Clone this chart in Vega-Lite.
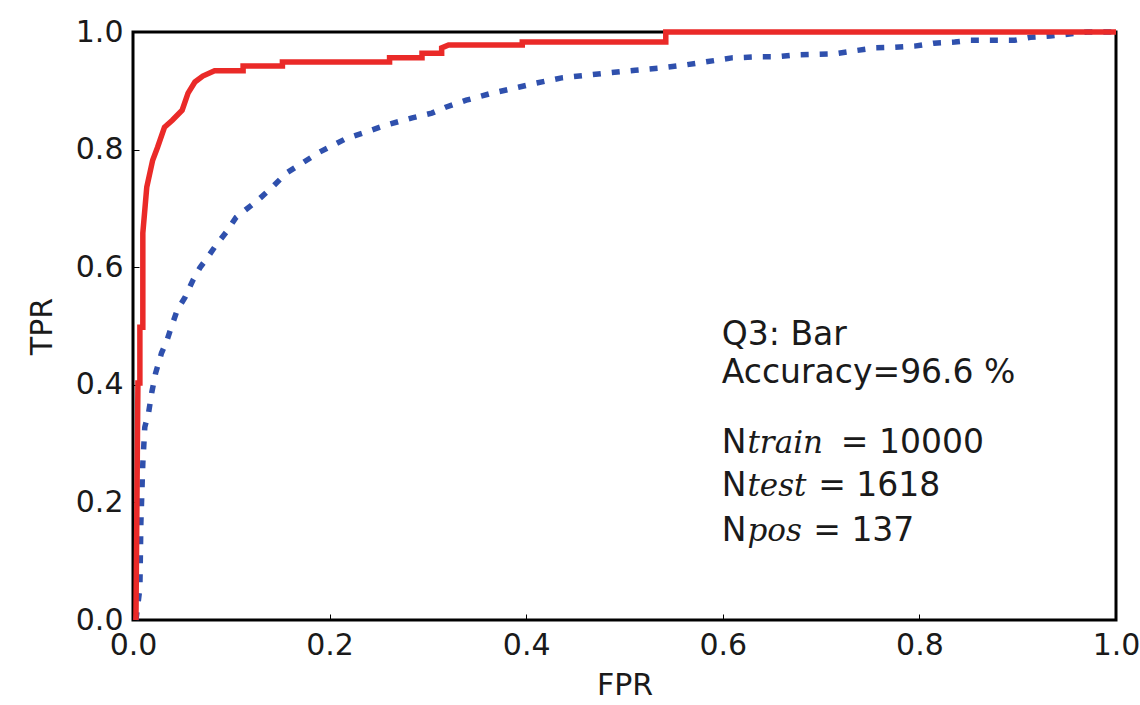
{
  "$schema": "https://vega.github.io/schema/vega-lite/v6.json",
  "width": 983,
  "height": 588,
  "autosize": {"type": "none"},
  "padding": {"left": 133, "top": 32, "right": 24, "bottom": 85},
  "background": "white",
  "config": {
    "view": {"stroke": "black", "strokeWidth": 3},
    "axis": {
      "labelFont": "DejaVu Sans",
      "titleFont": "DejaVu Sans",
      "labelFontSize": 30,
      "titleFontSize": 30,
      "titleFontWeight": "normal",
      "labelColor": "#1a1a1a",
      "titleColor": "#1a1a1a",
      "grid": false,
      "domain": false,
      "tickColor": "black",
      "tickWidth": 1,
      "tickSize": -6,
      "labelPadding": 16,
      "labelFlush": false,
      "labelOverlap": false
    }
  },
  "datasets": {
    "red": [
      {"fpr": 0.003, "tpr": 0.0},
      {"fpr": 0.005, "tpr": 0.403},
      {"fpr": 0.007, "tpr": 0.403},
      {"fpr": 0.007, "tpr": 0.498},
      {"fpr": 0.010, "tpr": 0.498},
      {"fpr": 0.010, "tpr": 0.658},
      {"fpr": 0.014, "tpr": 0.736},
      {"fpr": 0.020, "tpr": 0.782},
      {"fpr": 0.025, "tpr": 0.804},
      {"fpr": 0.032, "tpr": 0.838},
      {"fpr": 0.040, "tpr": 0.850},
      {"fpr": 0.050, "tpr": 0.867},
      {"fpr": 0.056, "tpr": 0.896},
      {"fpr": 0.063, "tpr": 0.915},
      {"fpr": 0.071, "tpr": 0.925},
      {"fpr": 0.083, "tpr": 0.934},
      {"fpr": 0.112, "tpr": 0.934},
      {"fpr": 0.112, "tpr": 0.942},
      {"fpr": 0.152, "tpr": 0.942},
      {"fpr": 0.152, "tpr": 0.949},
      {"fpr": 0.261, "tpr": 0.949},
      {"fpr": 0.261, "tpr": 0.956},
      {"fpr": 0.294, "tpr": 0.956},
      {"fpr": 0.294, "tpr": 0.964},
      {"fpr": 0.314, "tpr": 0.964},
      {"fpr": 0.314, "tpr": 0.973},
      {"fpr": 0.321, "tpr": 0.978},
      {"fpr": 0.396, "tpr": 0.978},
      {"fpr": 0.396, "tpr": 0.983},
      {"fpr": 0.542, "tpr": 0.983},
      {"fpr": 0.542, "tpr": 1.0},
      {"fpr": 1.0, "tpr": 1.0}
    ],
    "blue": [
      {"fpr": 0.003, "tpr": 0.0},
      {"fpr": 0.007, "tpr": 0.054},
      {"fpr": 0.008, "tpr": 0.165},
      {"fpr": 0.010, "tpr": 0.267},
      {"fpr": 0.012, "tpr": 0.328},
      {"fpr": 0.016, "tpr": 0.354},
      {"fpr": 0.019, "tpr": 0.386},
      {"fpr": 0.023, "tpr": 0.420},
      {"fpr": 0.029, "tpr": 0.454},
      {"fpr": 0.034, "tpr": 0.473},
      {"fpr": 0.039, "tpr": 0.498},
      {"fpr": 0.045, "tpr": 0.527},
      {"fpr": 0.053, "tpr": 0.549},
      {"fpr": 0.061, "tpr": 0.578},
      {"fpr": 0.068, "tpr": 0.599},
      {"fpr": 0.076, "tpr": 0.617},
      {"fpr": 0.083, "tpr": 0.634},
      {"fpr": 0.095, "tpr": 0.660},
      {"fpr": 0.105, "tpr": 0.685},
      {"fpr": 0.127, "tpr": 0.714},
      {"fpr": 0.141, "tpr": 0.735},
      {"fpr": 0.156, "tpr": 0.760},
      {"fpr": 0.172, "tpr": 0.777},
      {"fpr": 0.190, "tpr": 0.796},
      {"fpr": 0.217, "tpr": 0.819},
      {"fpr": 0.237, "tpr": 0.830},
      {"fpr": 0.258, "tpr": 0.842},
      {"fpr": 0.284, "tpr": 0.854},
      {"fpr": 0.304, "tpr": 0.862},
      {"fpr": 0.318, "tpr": 0.872},
      {"fpr": 0.339, "tpr": 0.884},
      {"fpr": 0.365, "tpr": 0.896},
      {"fpr": 0.392, "tpr": 0.906},
      {"fpr": 0.410, "tpr": 0.913},
      {"fpr": 0.436, "tpr": 0.922},
      {"fpr": 0.481, "tpr": 0.930},
      {"fpr": 0.511, "tpr": 0.935},
      {"fpr": 0.538, "tpr": 0.939},
      {"fpr": 0.562, "tpr": 0.944},
      {"fpr": 0.582, "tpr": 0.949},
      {"fpr": 0.609, "tpr": 0.956},
      {"fpr": 0.639, "tpr": 0.958},
      {"fpr": 0.656, "tpr": 0.958},
      {"fpr": 0.674, "tpr": 0.961},
      {"fpr": 0.714, "tpr": 0.963},
      {"fpr": 0.734, "tpr": 0.968},
      {"fpr": 0.755, "tpr": 0.973},
      {"fpr": 0.775, "tpr": 0.974},
      {"fpr": 0.795, "tpr": 0.976},
      {"fpr": 0.815, "tpr": 0.981},
      {"fpr": 0.836, "tpr": 0.983},
      {"fpr": 0.852, "tpr": 0.986},
      {"fpr": 0.897, "tpr": 0.986},
      {"fpr": 0.913, "tpr": 0.991},
      {"fpr": 0.933, "tpr": 0.993},
      {"fpr": 0.971, "tpr": 1.0},
      {"fpr": 1.0, "tpr": 1.0}
    ],
    "plain": [
      {"fpr": 0.599, "tpr": 0.468, "label": "Q3: Bar"},
      {"fpr": 0.599, "tpr": 0.403, "label": "Accuracy=96.6 %"},
      {"fpr": 0.599, "tpr": 0.284, "label": "N"},
      {"fpr": 0.720, "tpr": 0.284, "label": "= 10000"},
      {"fpr": 0.599, "tpr": 0.211, "label": "N"},
      {"fpr": 0.697, "tpr": 0.211, "label": "= 1618"},
      {"fpr": 0.599, "tpr": 0.134, "label": "N"},
      {"fpr": 0.692, "tpr": 0.134, "label": "= 137"}
    ],
    "italic": [
      {"fpr": 0.625, "tpr": 0.284, "label": "train"},
      {"fpr": 0.625, "tpr": 0.211, "label": "test"},
      {"fpr": 0.625, "tpr": 0.134, "label": "pos"}
    ]
  },
  "layer": [
    {
      "data": {"name": "blue"},
      "mark": {"type": "line", "color": "#2f50ad", "strokeWidth": 5.5, "strokeDash": [8, 11], "strokeCap": "butt"},
      "encoding": {
        "x": {"field": "fpr", "type": "quantitative", "scale": {"domain": [0, 1], "nice": false, "zero": false},
          "axis": {"title": "FPR", "values": [0, 0.2, 0.4, 0.6, 0.8, 1.0], "format": ".1f", "titlePadding": 10}},
        "y": {"field": "tpr", "type": "quantitative", "scale": {"domain": [0, 1], "nice": false, "zero": false},
          "axis": {"title": "TPR", "values": [0, 0.2, 0.4, 0.6, 0.8, 1.0], "format": ".1f", "titlePadding": 18}},
        "order": {"field": "fpr", "type": "quantitative"}
      }
    },
    {
      "data": {"name": "red"},
      "mark": {"type": "line", "color": "#ea2a28", "strokeWidth": 5.5},
      "encoding": {
        "x": {"field": "fpr", "type": "quantitative"},
        "y": {"field": "tpr", "type": "quantitative"},
        "order": {"field": "fpr", "type": "quantitative"}
      }
    },
    {
      "data": {"name": "plain"},
      "mark": {"type": "text", "align": "left", "baseline": "alphabetic", "font": "DejaVu Sans", "fontSize": 33, "color": "#1a1a1a"},
      "encoding": {
        "x": {"field": "fpr", "type": "quantitative"},
        "y": {"field": "tpr", "type": "quantitative"},
        "text": {"field": "label"}
      }
    },
    {
      "data": {"name": "italic"},
      "mark": {"type": "text", "align": "left", "baseline": "alphabetic", "font": "DejaVu Serif", "fontStyle": "italic", "fontSize": 31, "color": "#1a1a1a"},
      "encoding": {
        "x": {"field": "fpr", "type": "quantitative"},
        "y": {"field": "tpr", "type": "quantitative"},
        "text": {"field": "label"}
      }
    }
  ]
}
